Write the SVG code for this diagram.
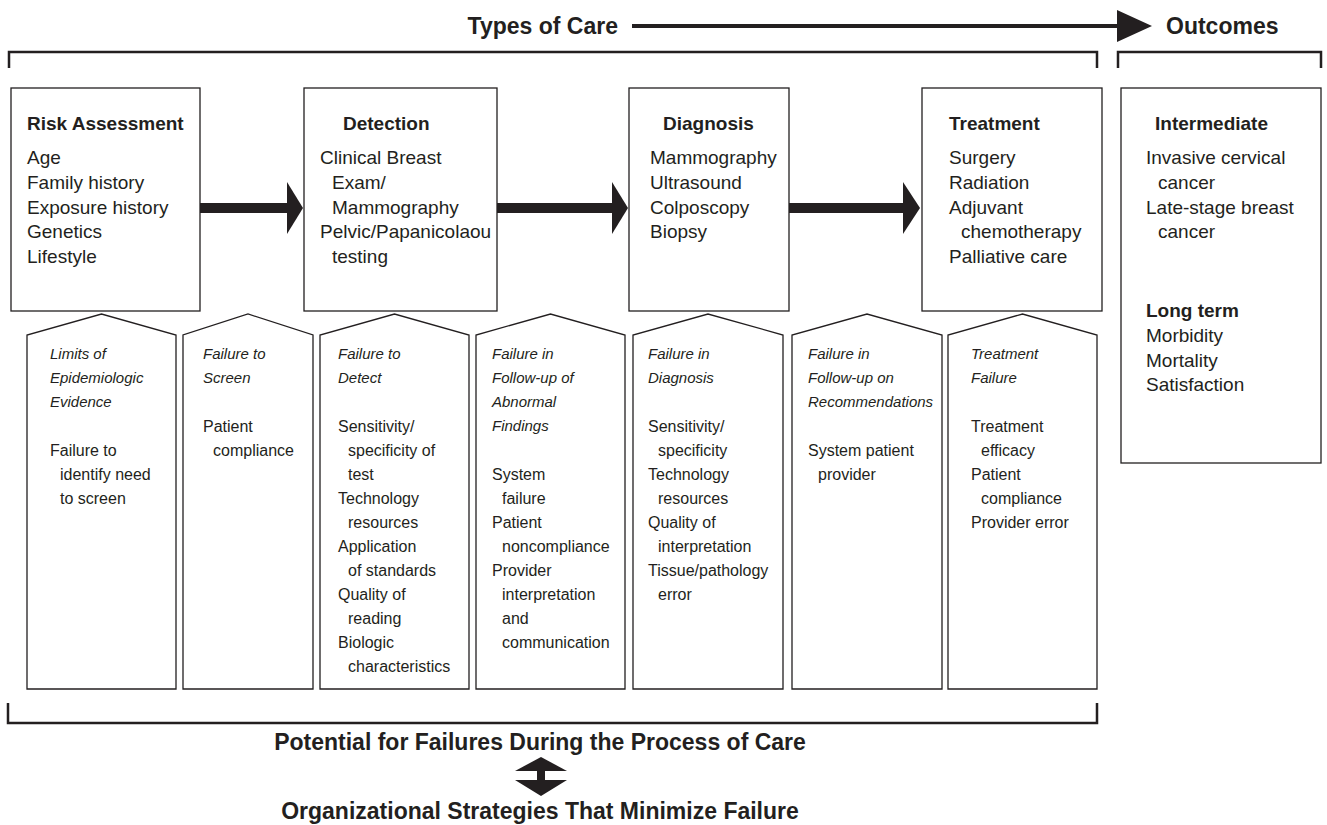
<svg xmlns="http://www.w3.org/2000/svg" width="1327" height="825" viewBox="0 0 1327 825">
  <style>
    text { font-family: "Liberation Sans", Arial, sans-serif; fill: #231f20; }
    .hdr { font-size: 23px; font-weight: bold; }
    .ttl { font-size: 19px; font-weight: bold; }
    .itm { font-size: 19px; }
    .cap { font-size: 15px; font-style: italic; }
    .sub { font-size: 16px; }
    .box { fill: #fff; stroke: #231f20; stroke-width: 1.3; }
    .brk { fill: none; stroke: #231f20; stroke-width: 2.5; }
    .flow { fill: #231f20; stroke: none; }
  </style>

  <!-- header: types of care leading to outcomes -->
  <g id="header">
    <text class="hdr" x="618" y="34" text-anchor="end">Types of Care</text>
    <text class="hdr" x="1166" y="34">Outcomes</text>
  </g>

  <!-- brackets -->
  <g id="brackets">
    <polyline class="brk" points="9,68 9,52 1097,52 1097,68"/>
    <polyline class="brk" points="1118,68 1118,52 1321,52 1321,68"/>
    <polyline class="brk" points="8,703 8,723 1097,723 1097,703"/>
  </g>

  <!-- care stage boxes -->
  <g id="risk-assessment">
    <rect class="box" x="11" y="88" width="189" height="223"/>
    <text class="ttl" x="27" y="130">Risk Assessment</text>
    <text class="itm" x="27" y="164">Age</text>
    <text class="itm" x="27" y="189">Family history</text>
    <text class="itm" x="27" y="214">Exposure history</text>
    <text class="itm" x="27" y="238">Genetics</text>
    <text class="itm" x="27" y="263">Lifestyle</text>
  </g>
  <g id="detection">
    <rect class="box" x="304" y="88" width="193" height="223"/>
    <text class="ttl" x="343" y="130">Detection</text>
    <text class="itm" x="320" y="164">Clinical Breast</text>
    <text class="itm" x="332" y="189">Exam/</text>
    <text class="itm" x="332" y="214">Mammography</text>
    <text class="itm" x="320" y="238">Pelvic/Papanicolaou</text>
    <text class="itm" x="332" y="263">testing</text>
  </g>
  <g id="diagnosis">
    <rect class="box" x="629" y="88" width="160" height="223"/>
    <text class="ttl" x="663" y="130">Diagnosis</text>
    <text class="itm" x="650" y="164">Mammography</text>
    <text class="itm" x="650" y="189">Ultrasound</text>
    <text class="itm" x="650" y="214">Colposcopy</text>
    <text class="itm" x="650" y="238">Biopsy</text>
  </g>
  <g id="treatment">
    <rect class="box" x="922" y="88" width="180" height="223"/>
    <text class="ttl" x="949" y="130">Treatment</text>
    <text class="itm" x="949" y="164">Surgery</text>
    <text class="itm" x="949" y="189">Radiation</text>
    <text class="itm" x="949" y="214">Adjuvant</text>
    <text class="itm" x="961" y="238">chemotherapy</text>
    <text class="itm" x="949" y="263">Palliative care</text>
  </g>
  <g id="outcomes">
    <rect class="box" x="1121" y="88" width="200" height="375"/>
    <text class="ttl" x="1155" y="130">Intermediate</text>
    <text class="itm" x="1146" y="164">Invasive cervical</text>
    <text class="itm" x="1158" y="189">cancer</text>
    <text class="itm" x="1146" y="214">Late-stage breast</text>
    <text class="itm" x="1158" y="238">cancer</text>
    <text class="ttl" x="1146" y="317">Long term</text>
    <text class="itm" x="1146" y="342">Morbidity</text>
    <text class="itm" x="1146" y="367">Mortality</text>
    <text class="itm" x="1146" y="391">Satisfaction</text>
  </g>

  <!-- failure columns -->
  <g id="fail-evidence">
    <polygon class="box" points="27,689 27,335 101.5,314 176,335 176,689"/>
    <text class="cap" x="50" y="359">Limits of</text>
    <text class="cap" x="50" y="383">Epidemiologic</text>
    <text class="cap" x="50" y="407">Evidence</text>
    <text class="sub" x="50" y="456">Failure to</text>
    <text class="sub" x="60" y="480">identify need</text>
    <text class="sub" x="60" y="504">to screen</text>
  </g>
  <g id="fail-screen">
    <polygon class="box" points="183,689 183,335 248,314 313,335 313,689"/>
    <text class="cap" x="203" y="359">Failure to</text>
    <text class="cap" x="203" y="383">Screen</text>
    <text class="sub" x="203" y="432">Patient</text>
    <text class="sub" x="213" y="456">compliance</text>
  </g>
  <g id="fail-detect">
    <polygon class="box" points="320,689 320,335 394.5,314 469,335 469,689"/>
    <text class="cap" x="338" y="359">Failure to</text>
    <text class="cap" x="338" y="383">Detect</text>
    <text class="sub" x="338" y="432">Sensitivity/</text>
    <text class="sub" x="348" y="456">specificity of</text>
    <text class="sub" x="348" y="480">test</text>
    <text class="sub" x="338" y="504">Technology</text>
    <text class="sub" x="348" y="528">resources</text>
    <text class="sub" x="338" y="552">Application</text>
    <text class="sub" x="348" y="576">of standards</text>
    <text class="sub" x="338" y="600">Quality of</text>
    <text class="sub" x="348" y="624">reading</text>
    <text class="sub" x="338" y="648">Biologic</text>
    <text class="sub" x="348" y="672">characteristics</text>
  </g>
  <g id="fail-followup-findings">
    <polygon class="box" points="476,689 476,335 550.5,314 625,335 625,689"/>
    <text class="cap" x="492" y="359">Failure in</text>
    <text class="cap" x="492" y="383">Follow-up of</text>
    <text class="cap" x="492" y="407">Abnormal</text>
    <text class="cap" x="492" y="431">Findings</text>
    <text class="sub" x="492" y="480">System</text>
    <text class="sub" x="502" y="504">failure</text>
    <text class="sub" x="492" y="528">Patient</text>
    <text class="sub" x="502" y="552">noncompliance</text>
    <text class="sub" x="492" y="576">Provider</text>
    <text class="sub" x="502" y="600">interpretation</text>
    <text class="sub" x="502" y="624">and</text>
    <text class="sub" x="502" y="648">communication</text>
  </g>
  <g id="fail-diagnosis">
    <polygon class="box" points="633,689 633,335 708,314 783,335 783,689"/>
    <text class="cap" x="648" y="359">Failure in</text>
    <text class="cap" x="648" y="383">Diagnosis</text>
    <text class="sub" x="648" y="432">Sensitivity/</text>
    <text class="sub" x="658" y="456">specificity</text>
    <text class="sub" x="648" y="480">Technology</text>
    <text class="sub" x="658" y="504">resources</text>
    <text class="sub" x="648" y="528">Quality of</text>
    <text class="sub" x="658" y="552">interpretation</text>
    <text class="sub" x="648" y="576">Tissue/pathology</text>
    <text class="sub" x="658" y="600">error</text>
  </g>
  <g id="fail-followup-recs">
    <polygon class="box" points="792,689 792,335 867,314 942,335 942,689"/>
    <text class="cap" x="808" y="359">Failure in</text>
    <text class="cap" x="808" y="383">Follow-up on</text>
    <text class="cap" x="808" y="407">Recommendations</text>
    <text class="sub" x="808" y="456">System patient</text>
    <text class="sub" x="818" y="480">provider</text>
  </g>
  <g id="fail-treatment">
    <polygon class="box" points="948,689 948,335 1022.5,314 1097,335 1097,689"/>
    <text class="cap" x="971" y="359">Treatment</text>
    <text class="cap" x="971" y="383">Failure</text>
    <text class="sub" x="971" y="432">Treatment</text>
    <text class="sub" x="981" y="456">efficacy</text>
    <text class="sub" x="971" y="480">Patient</text>
    <text class="sub" x="981" y="504">compliance</text>
    <text class="sub" x="971" y="528">Provider error</text>
  </g>

  <!-- footer labels -->
  <g id="footer">
    <text class="hdr" x="540" y="750" text-anchor="middle">Potential for Failures During the Process of Care</text>
    <text class="hdr" x="540" y="819" text-anchor="middle">Organizational Strategies That Minimize Failure</text>
  </g>

  <!-- connectors -->
  <g id="connectors">
    <!-- header arrow -->
    <rect class="flow" x="632" y="24" width="486" height="4"/>
    <polygon class="flow" points="1117,10 1152,26 1117,42"/>
    <!-- stage-to-stage arrows -->
    <rect class="flow" x="200" y="203" width="88" height="10"/>
    <polygon class="flow" points="287,182 303,208 287,234"/>
    <rect class="flow" x="497" y="203" width="116" height="10"/>
    <polygon class="flow" points="612,182 628,208 612,234"/>
    <rect class="flow" x="789" y="203" width="115" height="10"/>
    <polygon class="flow" points="903,182 920,208 903,234"/>
    <!-- two-way arrow between failures and strategies -->
    <polygon class="flow" points="541,757 567,771 515,771"/>
    <rect class="flow" x="537" y="771" width="8" height="10"/>
    <polygon class="flow" points="515,780 567,780 541,796"/>
  </g>
</svg>
